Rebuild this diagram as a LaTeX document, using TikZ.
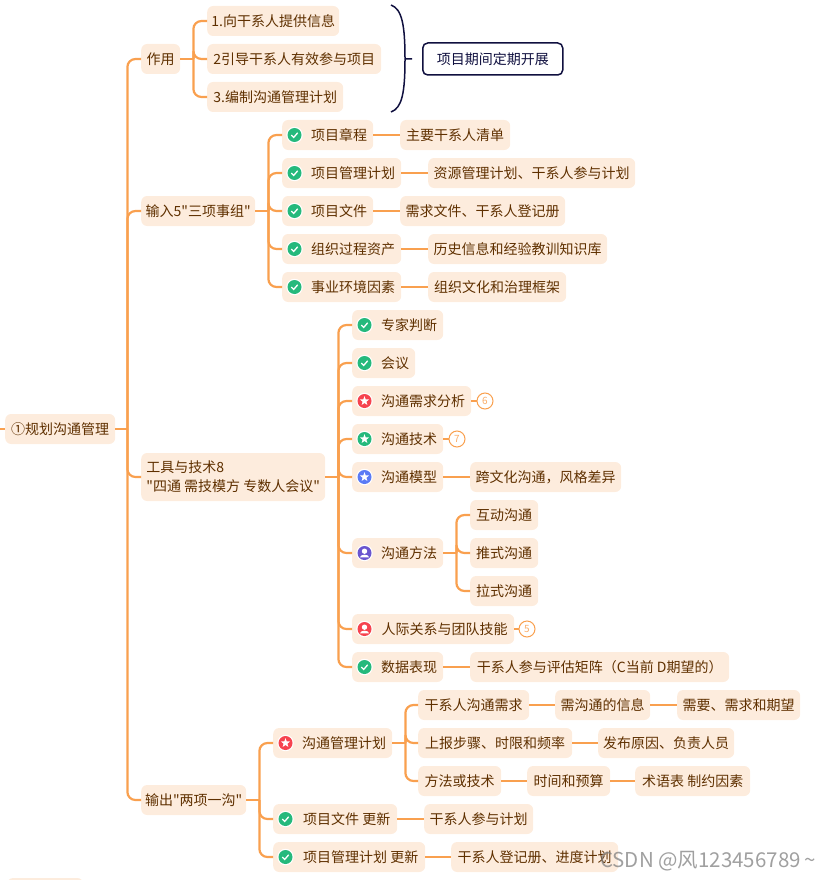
\documentclass[tikz,border=0pt]{standalone}
\usepackage{fontspec}
\setmainfont{Noto Sans CJK SC}
\newfontfamily\mapfont{Noto Sans CJK SC}
\definecolor{linkorange}{HTML}{F9A04F}
\definecolor{boxpeach}{HTML}{FDECDD}
\definecolor{textbrown}{HTML}{5F3000}
\definecolor{bracenavy}{HTML}{10103F}
\definecolor{okgreen}{HTML}{25B97C}
\definecolor{hotred}{HTML}{F6434F}
\definecolor{coolblue}{HTML}{5B7BF5}
\definecolor{deeppurple}{HTML}{6A55CF}
\newcommand{\tagged}[1]{\hspace*{23pt}#1}
\newcommand{\forkto}[3]{%
    \draw[link] (#1.east) -- ++(#2,0) coordinate (#1fork);
    \foreach \kid in {#3}
        \draw[link, rounded corners=8] (#1fork) |- (\kid.west);
}
\tikzset{
    topic/.style={anchor=west, fill=boxpeach, text=textbrown, rounded corners=6, minimum height=30, inner sep=0, align=left, font=\mapfont\fontsize{14}{19}\selectfont},
    link/.style={draw=linkorange, line width=2.2},
    count/.style={circle, draw=linkorange, fill=white, line width=1, text=linkorange!85, minimum size=16, inner sep=0, font=\fontsize{10}{10}\selectfont},
    pics/okicon/.style={code={
        \fill[white] (0,0) circle (8.2);
        \fill[okgreen] (0,0) circle (7);
        \draw[white, line width=1.3] (-3.2,0) -- (-0.8,2.4) -- (3.2,-2.2);
    }},
    pics/staricon/.style={code={
        \fill[white] (0,0) circle (8.2);
        \fill[#1] (0,0) circle (7);
        \fill[white] (-90:4.8) -- (-54:2) -- (-18:4.8) -- (18:2) -- (54:4.8) -- (90:2) -- (126:4.8) -- (162:2) -- (198:4.8) -- (234:2) -- cycle;
    }},
    pics/personicon/.style={code={
        \fill[white] (0,0) circle (8.2);
        \fill[#1] (0,0) circle (7);
        \fill[white] (0,-1.8) circle (2.7);
        \fill[white] (-4.6,4.4) .. controls (-4.4,0.8) and (4.4,0.8) .. (4.6,4.4) -- cycle;
    }}
}
\begin{document}
\begin{tikzpicture}[x=1pt, y=-1pt]
    \useasboundingbox (0,0) rectangle (831,880);

    \coordinate (rootin) at (0,429);
    \node[topic, minimum width=110] (root) at (5,429) {①规划沟通管理};
    \node[topic, minimum width=76] (nextroot) at (7,893) {};

    \node[topic, minimum width=39] (role) at (141,59) {作用};
    \node[topic, minimum width=114] (input) at (141,211) {输入5"三项事组"};
    \node[topic, minimum width=184, minimum height=48] (tools) at (141,477) {工具与技术8\\"四通 需技模方 专数人会议"};
    \node[topic, minimum width=105] (output) at (141,800) {输出"两项一沟"};

    \node[topic, minimum width=132] (role1) at (207,21) {1.向干系人提供信息};
    \node[topic, minimum width=174] (role2) at (207,59) {2引导干系人有效参与项目};
    \node[topic, minimum width=136] (role3) at (207,97) {3.编制沟通管理计划};
    \node[draw=bracenavy, fill=white, line width=1.5, rounded corners=5, minimum width=140, minimum height=32, anchor=west, text=bracenavy, font=\fontsize{14}{19}\selectfont] (during) at (422,59) {项目期间定期开展};
    \draw[bracenavy, line width=1.5] (391,5) .. controls (402,9) and (405,25) .. (405,59) -- (412,59) (405,59) .. controls (405,93) and (402,108) .. (391,112);

    \node[topic, minimum width=91] (charter) at (282,135) {\tagged{项目章程}};
    \node[topic, minimum width=119] (pmplan) at (282,173) {\tagged{项目管理计划}};
    \node[topic, minimum width=91] (docs) at (282,211) {\tagged{项目文件}};
    \node[topic, minimum width=119] (opa) at (282,249) {\tagged{组织过程资产}};
    \node[topic, minimum width=119] (eef) at (282,287) {\tagged{事业环境因素}};
    \node[topic, minimum width=110] (charterd) at (400,135) {主要干系人清单};
    \node[topic, minimum width=207] (pmpland) at (428,173) {资源管理计划、干系人参与计划};
    \node[topic, minimum width=165] (docsd) at (400,211) {需求文件、干系人登记册};
    \node[topic, minimum width=179] (opad) at (428,249) {历史信息和经验教训知识库};
    \node[topic, minimum width=138] (eefd) at (428,287) {组织文化和治理框架};

    \node[topic, minimum width=91] (expert) at (352,325) {\tagged{专家判断}};
    \node[topic, minimum width=63] (meeting) at (352,363) {\tagged{会议}};
    \node[topic, minimum width=119] (needs) at (352,401) {\tagged{沟通需求分析}};
    \node[topic, minimum width=91] (tech) at (352,439) {\tagged{沟通技术}};
    \node[topic, minimum width=91] (model) at (352,477) {\tagged{沟通模型}};
    \node[topic, minimum width=91] (method) at (352,553) {\tagged{沟通方法}};
    \node[topic, minimum width=162] (skills) at (352,629) {\tagged{人际关系与团队技能}};
    \node[topic, minimum width=91] (data) at (352,667) {\tagged{数据表现}};
    \node[count] (needsn) at (485,401) {6};
    \node[count] (techn) at (457,439) {7};
    \node[count] (skillsn) at (527,629) {5};
    \node[topic, minimum width=151] (modeld) at (470,477) {跨文化沟通，风格差异};
    \node[topic, minimum width=68] (method1) at (470,515) {互动沟通};
    \node[topic, minimum width=68] (method2) at (470,553) {推式沟通};
    \node[topic, minimum width=68] (method3) at (470,591) {拉式沟通};
    \node[topic, minimum width=259] (datad) at (470,667) {干系人参与评估矩阵（C当前 D期望的）};

    \node[topic, minimum width=119] (commplan) at (273,743) {\tagged{沟通管理计划}};
    \node[topic, minimum width=124] (docsup) at (273,819) {\tagged{项目文件 更新}};
    \node[topic, minimum width=152] (pmup) at (273,857) {\tagged{项目管理计划 更新}};
    \node[topic, minimum width=111] (plan1) at (418,705) {干系人沟通需求};
    \node[topic, minimum width=95] (plan1a) at (555,705) {需沟通的信息};
    \node[topic, minimum width=123] (plan1b) at (677,705) {需要、需求和期望};
    \node[topic, minimum width=154] (plan2) at (418,743) {上报步骤、时限和频率};
    \node[topic, minimum width=136] (plan2a) at (598,743) {发布原因、负责人员};
    \node[topic, minimum width=83] (plan3) at (418,781) {方法或技术};
    \node[topic, minimum width=83] (plan3a) at (527,781) {时间和预算};
    \node[topic, minimum width=115] (plan3b) at (635,781) {术语表 制约因素};
    \node[topic, minimum width=109] (docsupd) at (424,819) {干系人参与计划};
    \node[topic, minimum width=167] (pmupd) at (451,857) {干系人登记册、进度计划};

    \draw[link] (rootin) -- (root.west);
    \forkto{root}{12}{role, input, tools, output}
    \forkto{role}{13}{role1, role2, role3}
    \forkto{input}{13}{charter, pmplan, docs, opa, eef}
    \forkto{tools}{13}{expert, meeting, needs, tech, model, method, skills, data}
    \forkto{method}{13}{method1, method2, method3}
    \forkto{output}{13}{commplan, docsup, pmup}
    \forkto{commplan}{13}{plan1, plan2, plan3}
    \foreach \from/\to in {charter/charterd, pmplan/pmpland, docs/docsd, opa/opad, eef/eefd, needs/needsn, tech/techn, model/modeld, skills/skillsn, data/datad, plan1/plan1a, plan1a/plan1b, plan2/plan2a, plan3/plan3a, plan3a/plan3b, docsup/docsupd, pmup/pmupd}
        \draw[link] (\from.east) -- (\to.west);

    \foreach \item in {charter, pmplan, docs, opa, eef, expert, meeting, data, docsup, pmup}
        \pic at ([xshift=12.5pt]\item.west) {okicon};
    \pic at ([xshift=12.5pt]needs.west) {staricon=hotred};
    \pic at ([xshift=12.5pt]tech.west) {staricon=okgreen};
    \pic at ([xshift=12.5pt]model.west) {staricon=coolblue};
    \pic at ([xshift=12.5pt]method.west) {personicon=deeppurple};
    \pic at ([xshift=12.5pt]skills.west) {personicon=hotred};
    \pic at ([xshift=12.5pt]commplan.west) {staricon=hotred};

    \node[anchor=west, inner sep=0, text=gray, opacity=0.75, font=\fontsize{20.5}{21}\selectfont] (stamp) at (600,861) {CSDN @风123456789\,\char`\~};
\end{tikzpicture}
\end{document}
